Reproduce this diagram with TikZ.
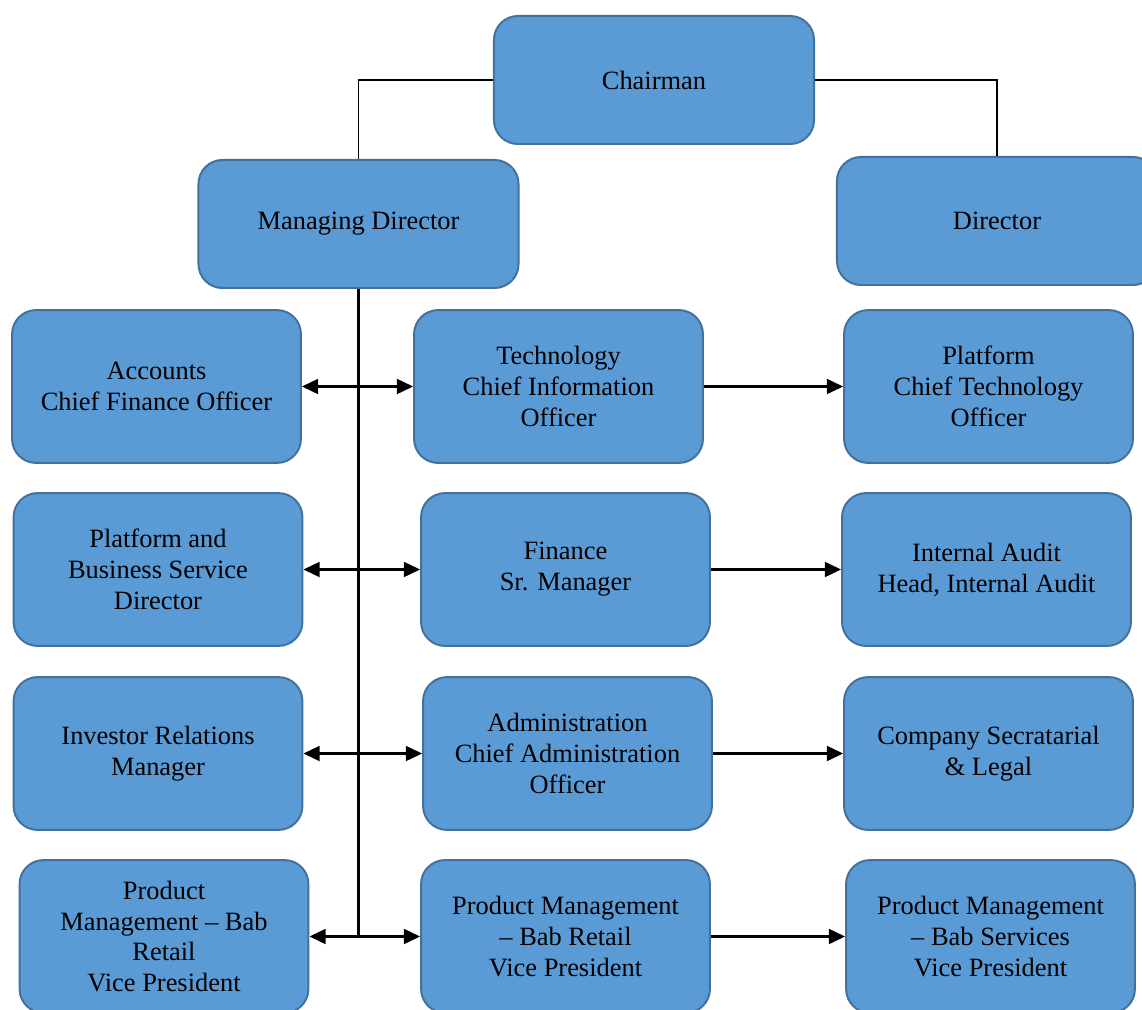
\documentclass[tikz,border=0pt]{standalone}
\usepackage{fontspec}
\setmainfont{Liberation Serif}
\usetikzlibrary{arrows.meta}
\definecolor{boxblue}{HTML}{5B9BD5}
\definecolor{boxedge}{HTML}{41719C}
\tikzset{
  post/.style={draw=boxedge, fill=boxblue, line width=1.4pt, rounded corners=0.6cm,
    align=center, inner sep=0pt, minimum width=7.22cm, minimum height=3.82cm,
    font=\fontsize{18.8}{22}\selectfont},
  top/.style={post, minimum width=8cm, minimum height=3.2cm},
  link/.style={line width=1.8pt, -{Triangle[length=11.5pt,width=10.5pt]}},
  both/.style={line width=1.8pt, {Triangle[length=11.5pt,width=10.5pt]}-{Triangle[length=11.5pt,width=10.5pt]}}
}
\begin{document}
\begin{tikzpicture}[x=0.025cm, y=-0.025cm]
  \useasboundingbox (0,0) rectangle (1142,1010);
  % top level
  \node[top] (chair) at (654,80) {Chairman};
  \node[top] (md) at (358.5,224) {Managing Director};
  \node[top] (dir) at (997,221) {Director};
  % first row
  \node[post] (acc) at (156.5,386.5) {Accounts\\Chief Finance Officer};
  \node[post] (tech) at (558.5,386.5) {Technology\\Chief Information\\Officer};
  \node[post] (plat) at (988.5,386.5) {Platform\\Chief Technology\\Officer};
  % second row
  \node[post] (pbs) at (158,569.5) {Platform and\\Business Service\\Director};
  \node[post] (fin) at (565.5,569.5) {Finance\\Sr. Manager};
  \node[post] (audit) at (986.5,569.5) {Internal Audit\\Head, Internal Audit};
  % third row
  \node[post] (inv) at (158,753.5) {Investor Relations\\Manager};
  \node[post] (admin) at (567.5,753.5) {Administration\\Chief Administration\\Officer};
  \node[post] (csec) at (988.5,753.5) {Company Secratarial\\\& Legal};
  % fourth row
  \node[post] (pmleft) at (164,936.5) {Product\\Management -- Bab\\Retail\\Vice President};
  \node[post] (pmretail) at (565.5,936.5) {Product Management\\-- Bab Retail\\Vice President};
  \node[post] (pmserv) at (990.5,936.5) {Product Management\\-- Bab Services\\Vice President};
  % connectors
  \draw[line width=1.4pt] (chair.west) -| (md.north);
  \draw[line width=1.4pt] (chair.east) -| (dir.north);
  \draw[line width=1.8pt] (md.south) -- (md.south |- pmleft.east);
  \draw[both] (acc.east) -- (tech.west);
  \draw[both] (pbs.east) -- (fin.west);
  \draw[both] (inv.east) -- (admin.west);
  \draw[both] (pmleft.east) -- (pmretail.west);
  \draw[link] (tech.east) -- (plat.west);
  \draw[link] (fin.east) -- (audit.west);
  \draw[link] (admin.east) -- (csec.west);
  \draw[link] (pmretail.east) -- (pmserv.west);
\end{tikzpicture}
\end{document}
